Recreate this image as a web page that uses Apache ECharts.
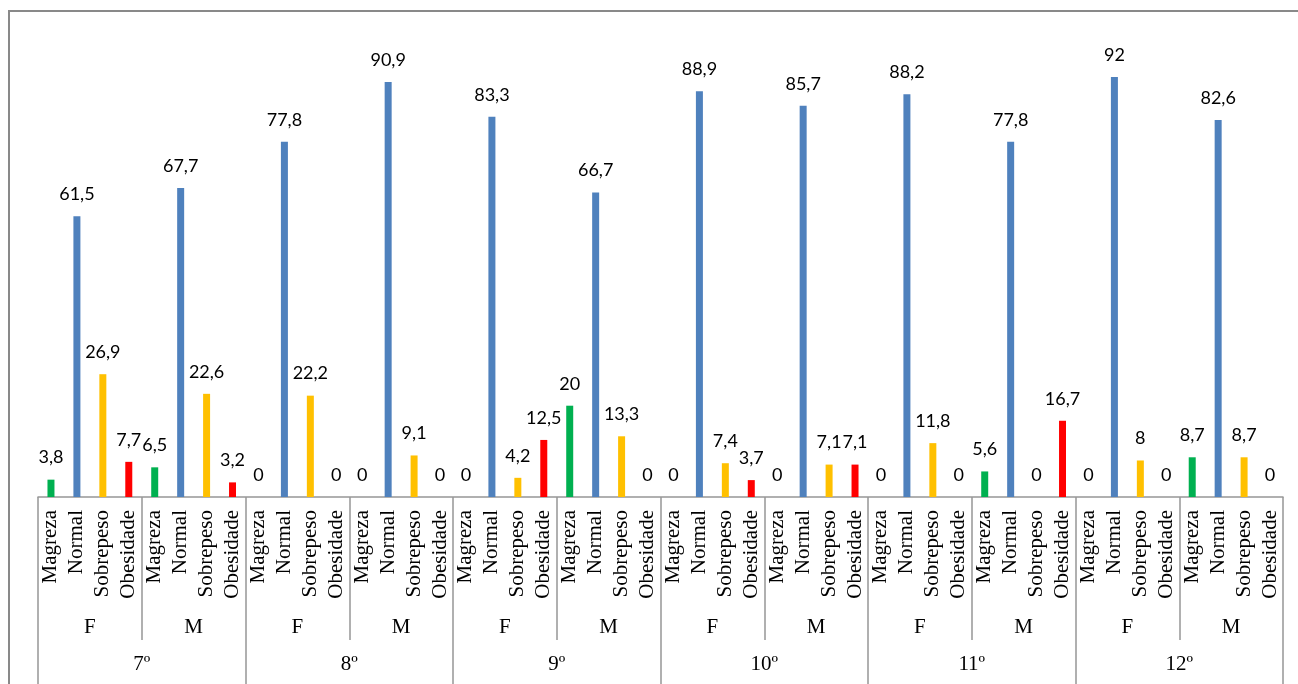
<!DOCTYPE html>
<html>
<head>
<meta charset="utf-8">
<script src="https://cdn.jsdelivr.net/npm/echarts@6/dist/echarts.min.js"></script>
<style>
html,body{margin:0;padding:0;background:#fff;}
#g_canvas{width:1298px;height:684px;}
</style>
</head>
<body>
<div id="g_canvas"></div>
<script>
// categorias
var grades = ['7º', '8º', '9º', '10º', '11º', '12º'];
var sexes = ['F', 'M'];
var classes = ['Magreza', 'Normal', 'Sobrepeso', 'Obesidade'];
var classColors = ['#00B050', '#4F81BD', '#FFC000', '#FF0000'];

// valores (%) por grupo: 7ºF, 7ºM, 8ºF, 8ºM ... 12ºM
var magreza   = [3.8, 6.5, 0, 0, 0, 20, 0, 0, 0, 5.6, 0, 8.7];
var normal    = [61.5, 67.7, 77.8, 90.9, 83.3, 66.7, 88.9, 85.7, 88.2, 77.8, 92, 82.6];
var sobrepeso = [26.9, 22.6, 22.2, 9.1, 4.2, 13.3, 7.4, 7.1, 11.8, 0, 8, 8.7];
var obesidade = [7.7, 3.2, 0, 0, 12.5, 0, 3.7, 7.1, 0, 16.7, 0, 0];

var series_vals = [magreza, normal, sobrepeso, obesidade];

var cat_level0 = [];
var cat_level1 = [];
var bar_data = [];
for (let g = 0; g < grades.length; g++) {
	for (let s = 0; s < sexes.length; s++) {
		var idx = g * sexes.length + s;
		cat_level1.push(sexes[s]);
		for (let c = 0; c < classes.length; c++) {
			cat_level0.push(classes[c]);
			bar_data.push({
				value: series_vals[c][idx],
				itemStyle: { color: classColors[c] }
			});
		}
	}
}

var serif = '"Liberation Serif", "DejaVu Serif", serif';

option = {
	animation: false,
	backgroundColor: '#fff',
	grid: {
		left: 38,
		right: 15,
		top: 40.5,
		bottom: 187
	},
	graphic: [{
		type: 'rect',
		shape: { x: 9, y: 11, width: 1310, height: 700 },
		style: { fill: 'none', stroke: '#898989', lineWidth: 2 },
		silent: true
	}],
	xAxis: [{
		type: 'category',
		data: cat_level0,
		position: 'bottom',
		axisLine: { show: true, lineStyle: { color: '#969696', width: 1.5 } },
		axisTick: { show: false },
		axisLabel: {
			interval: 0,
			rotate: 90,
			margin: 13,
			color: '#000',
			fontFamily: serif,
			fontSize: 21
		}
	}, {
		type: 'category',
		data: cat_level1,
		position: 'bottom',
		axisLine: { show: false },
		axisTick: { show: true, length: 143, lineStyle: { color: '#969696', width: 1.5 } },
		axisLabel: {
			interval: 0,
			margin: 120,
			color: '#000',
			fontFamily: serif,
			fontSize: 21
		}
	}, {
		type: 'category',
		data: grades,
		position: 'bottom',
		axisLine: { show: false },
		axisTick: { show: true, length: 200, lineStyle: { color: '#969696', width: 1.5 } },
		axisLabel: {
			interval: 0,
			margin: 157,
			color: '#000',
			fontFamily: serif,
			fontSize: 21
		}
	}],
	yAxis: {
		type: 'value',
		min: 0,
		max: 100,
		show: false
	},
	series: [{
		type: 'bar',
		xAxisIndex: 0,
		barWidth: 7,
		data: bar_data,
		label: {
			show: true,
			position: 'top',
			distance: 13,
			color: '#000',
			fontFamily: 'Lato, "Open Sans", sans-serif',
			fontSize: 18,
			formatter: function (p) {
				return String(p.value).replace('.', ',');
			}
		}
	}]
};
var myChart = echarts.init(document.getElementById('g_canvas'));
myChart.setOption(option);
</script>
</body>
</html>
